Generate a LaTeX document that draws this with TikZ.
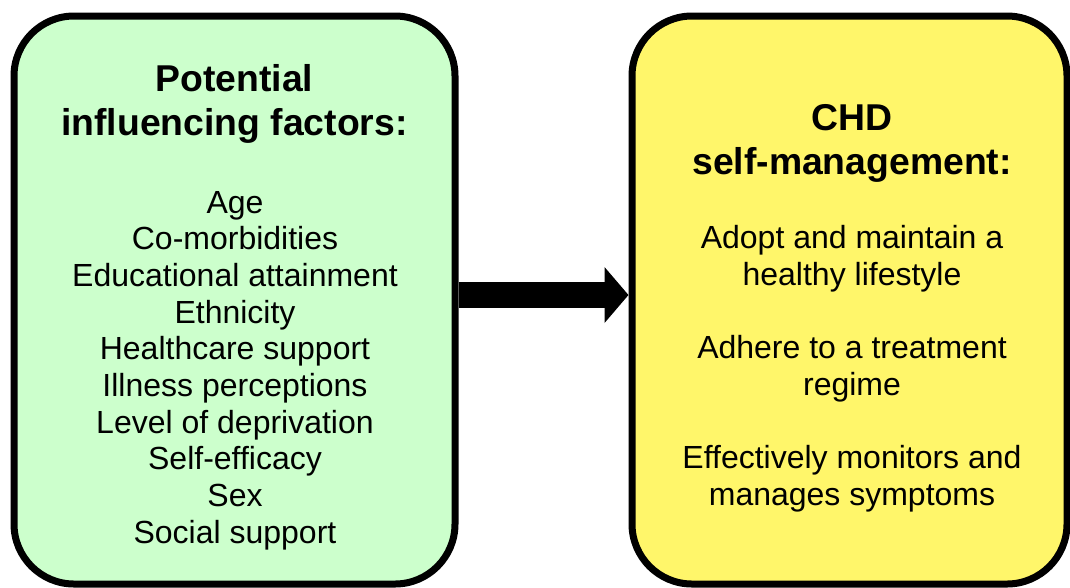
\documentclass[tikz,border=0pt]{standalone}
\usepackage{fontspec}
\setmainfont{Liberation Sans}
\usetikzlibrary{arrows.meta}
\definecolor{FactorGreen}{RGB}{204,255,204}
\definecolor{ManageYellow}{RGB}{255,246,106}

\begin{document}
\begin{tikzpicture}[
    x=0.75pt, y=-0.75pt,
    panel/.style={rectangle, draw=black, line width=5.25pt, rounded corners=45pt, minimum height=426pt, inner sep=0pt},
    heading/.style={font=\fontsize{28}{32.5}\selectfont\bfseries, align=center, anchor=base, inner sep=0pt},
    items/.style={font=\fontsize{24}{27.5}\selectfont, align=center, anchor=base, inner sep=0pt},
    arrow/.style={-{Triangle[length=18pt, width=41pt]}, draw=black, line width=20pt}
  ]
    \useasboundingbox (0,0) rectangle (1070,587);

    % Panels
    \node[panel, fill=FactorGreen, minimum width=330.75pt] (factors) at (234.5,300) {};
    \node[panel, fill=ManageYellow, minimum width=326.25pt] (selfman) at (849.5,300) {};

    % Influencing factors (anchored on the last baseline)
    \node[heading] (factorshead) at (234.5,135) {Potential\\influencing factors:};
    \node[items] (factorslist) at (235,543) {Age\\Co-morbidities\\Educational attainment\\Ethnicity\\Healthcare support\\Illness perceptions\\Level of deprivation\\Self-efficacy\\Sex\\Social support};

    % Self-management
    \node[heading] (selfmanhead) at (852,174) {CHD\\self-management:};
    \node[items] (selfmanlist) at (852,505) {Adopt and maintain a\\healthy lifestyle\\[27.5pt]Adhere to a treatment\\regime\\[27.5pt]Effectively monitors and\\manages symptoms};

    % Connection
    \draw[arrow] ([yshift=3.75pt]factors.east) -- ([yshift=3.75pt]selfman.west);
  \end{tikzpicture}
\end{document}
